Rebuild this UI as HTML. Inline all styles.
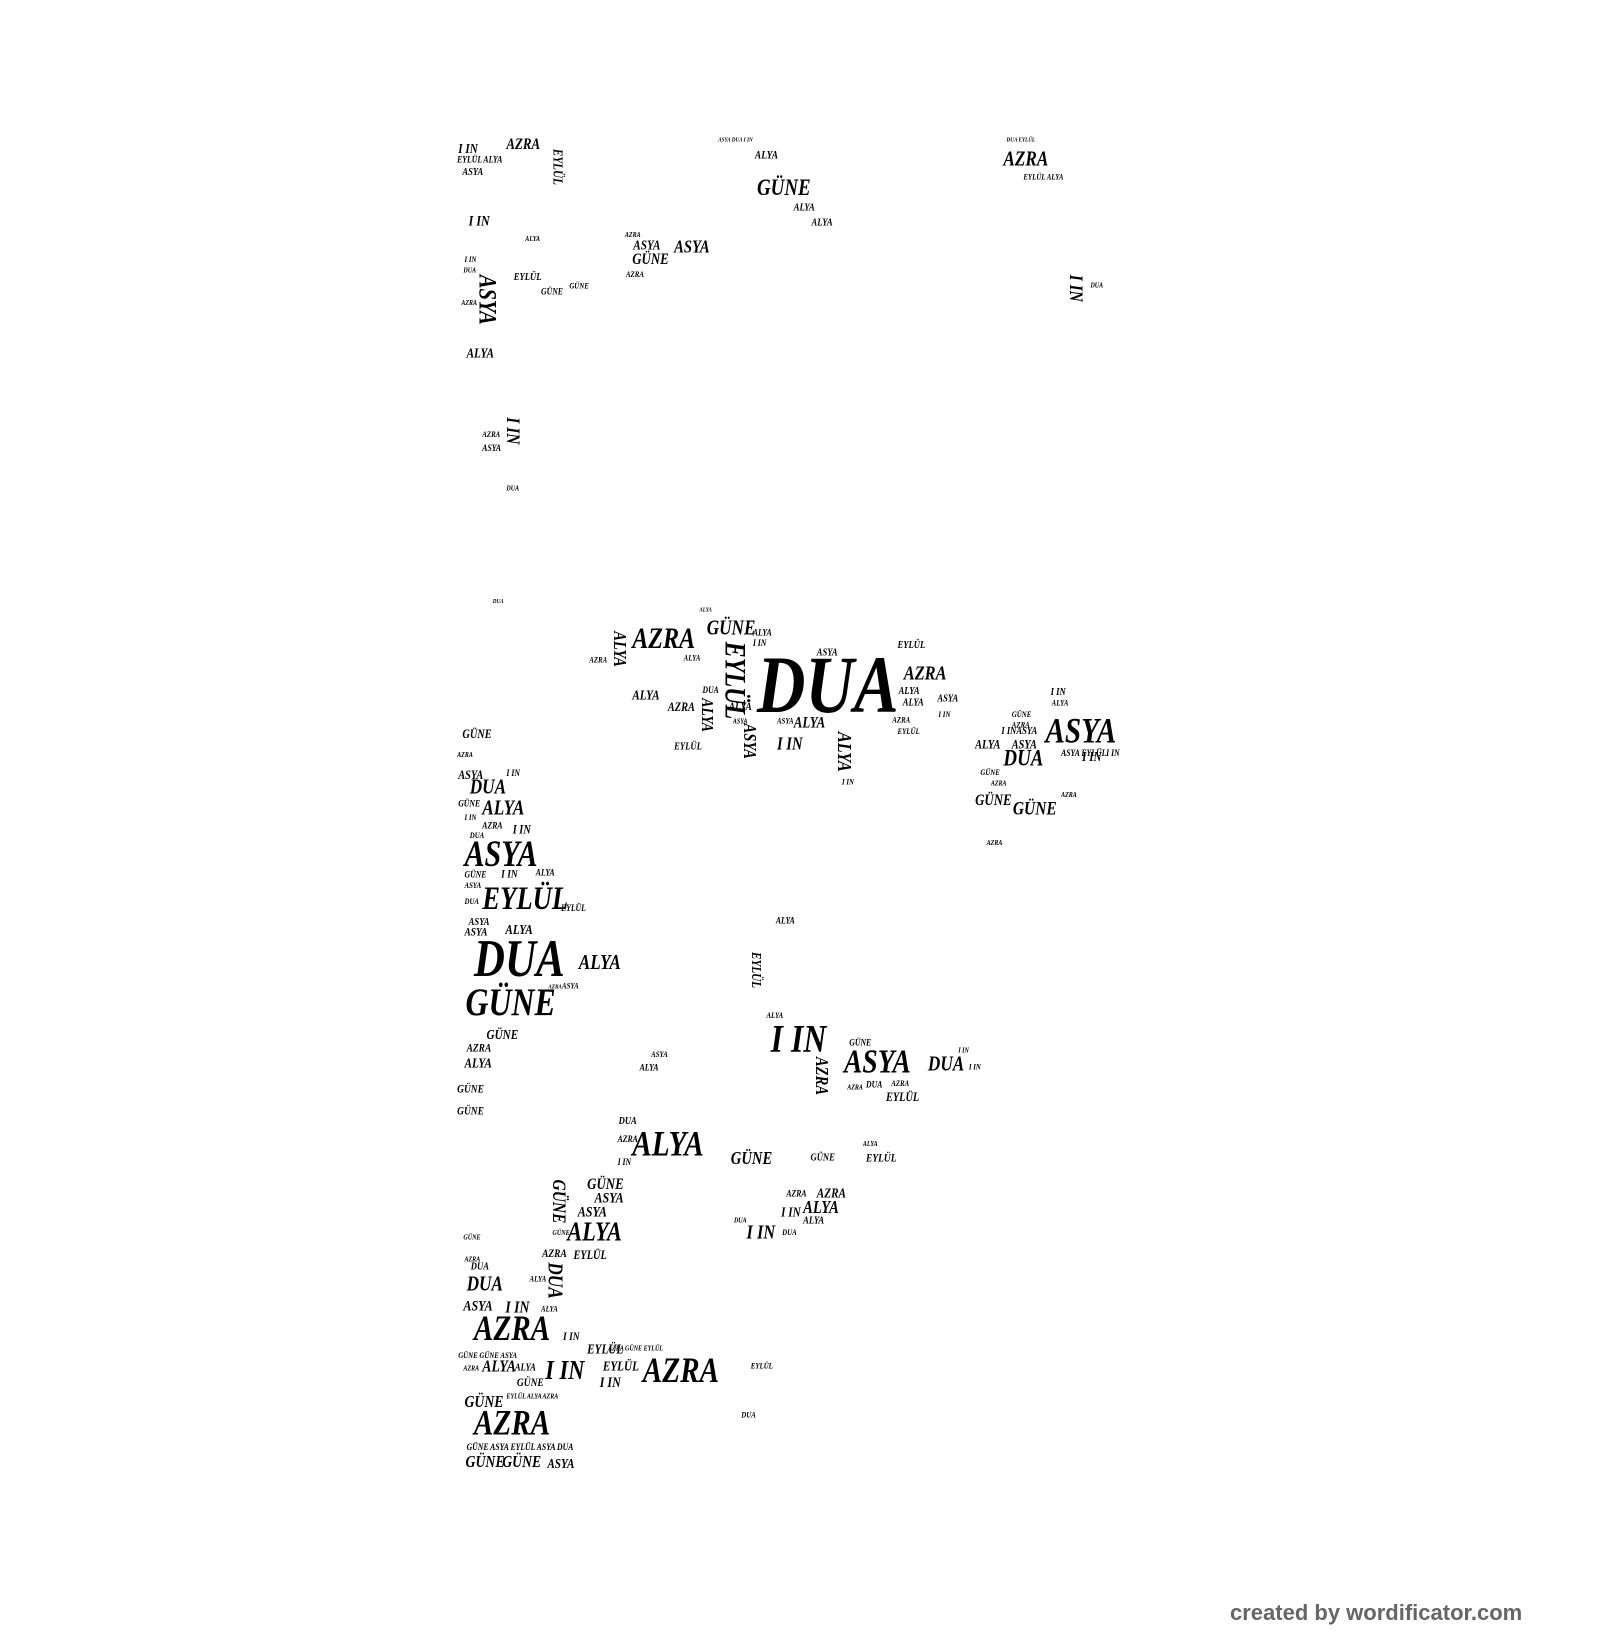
<!DOCTYPE html>
<html><head><meta charset="utf-8"><style>
html,body{margin:0;padding:0;background:#fff;width:1600px;height:1640px;overflow:hidden;position:relative}
#c{position:absolute;left:0;top:0;width:1526px;height:1564px;transform:scale(1.0485);transform-origin:0 0}
.w{position:absolute;font-family:"Liberation Serif",serif;font-weight:bold;font-style:italic;line-height:1;margin-top:-.2em;transform:scaleX(.82);transform-origin:0 0;white-space:nowrap;color:#000}
.v{writing-mode:vertical-rl;margin-top:0;margin-left:-.15em;transform:scaleY(.82)}
#cr{position:absolute;left:1230px;top:1600px;font-family:"Liberation Sans",sans-serif;font-weight:bold;font-size:22px;color:#666;white-space:nowrap}
</style></head><body><div id="c">
<!-- top cluster -->
<span class="w" style="left:437px;top:138px;font-size:13px">I IN</span>
<span class="w" style="left:483px;top:134px;font-size:15px">AZRA</span>
<span class="w v" style="left:528px;top:142px;font-size:13px">EYLÜL</span>
<span class="w" style="left:436px;top:150px;font-size:9px">EYLÜL ALYA</span>
<span class="w" style="left:441px;top:162px;font-size:10px">ASYA</span>
<span class="w" style="left:720px;top:145px;font-size:11px">ALYA</span>
<span class="w" style="left:685px;top:132px;font-size:6px">ASYA DUA I IN</span>
<span class="w" style="left:722px;top:172px;font-size:22px">GÜNE</span>
<span class="w" style="left:757px;top:196px;font-size:10px">ALYA</span>
<span class="w" style="left:774px;top:210px;font-size:10px">ALYA</span>
<span class="w" style="left:957px;top:146px;font-size:20px">AZRA</span>
<span class="w" style="left:960px;top:132px;font-size:6px">DUA EYLÜL</span>
<span class="w" style="left:976px;top:167px;font-size:8px">EYLÜL ALYA</span>
<span class="w" style="left:447px;top:208px;font-size:14px">I IN</span>
<span class="w" style="left:501px;top:226px;font-size:7px">ALYA</span>
<span class="w" style="left:596px;top:222px;font-size:7px">AZRA</span>
<span class="w" style="left:604px;top:230px;font-size:13px">ASYA</span>
<span class="w" style="left:643px;top:230px;font-size:17px">ASYA</span>
<span class="w" style="left:603px;top:244px;font-size:15px">GÜNE</span>
<span class="w" style="left:597px;top:260px;font-size:8px">AZRA</span>
<span class="w" style="left:443px;top:246px;font-size:8px">I IN</span>
<span class="w" style="left:442px;top:256px;font-size:7px">DUA</span>
<span class="w" style="left:490px;top:262px;font-size:10px">EYLÜL</span>
<span class="w" style="left:516px;top:276px;font-size:9px">GÜNE</span>
<span class="w" style="left:543px;top:271px;font-size:8px">GÜNE</span>
<span class="w v" style="left:456px;top:262px;font-size:24px">ASYA</span>
<span class="w" style="left:440px;top:287px;font-size:7px">AZRA</span>
<span class="w" style="left:445px;top:333px;font-size:13px">ALYA</span>
<span class="w v" style="left:1020px;top:262px;font-size:18px">I IN</span>
<span class="w" style="left:1040px;top:270px;font-size:7px">DUA</span>
<span class="w v" style="left:483px;top:398px;font-size:18px">I IN</span>
<span class="w" style="left:460px;top:413px;font-size:8px">AZRA</span>
<span class="w" style="left:460px;top:425px;font-size:9px">ASYA</span>
<span class="w" style="left:483px;top:464px;font-size:7px">DUA</span>
<span class="w" style="left:470px;top:572px;font-size:6px">DUA</span>
<!-- middle cluster -->
<span class="w" style="left:603px;top:602px;font-size:28px">AZRA</span>
<span class="w v" style="left:585px;top:602px;font-size:17px">ALYA</span>
<span class="w" style="left:562px;top:628px;font-size:8px">AZRA</span>
<span class="w" style="left:674px;top:593px;font-size:20px">GÜNE</span>
<span class="w" style="left:667px;top:580px;font-size:6px">ALYA</span>
<span class="w" style="left:718px;top:601px;font-size:9px">ALYA</span>
<span class="w" style="left:718px;top:611px;font-size:9px">I IN</span>
<span class="w" style="left:652px;top:626px;font-size:8px">ALYA</span>
<span class="w v" style="left:690px;top:612px;font-size:28px">EYLÜL</span>
<span class="w" style="left:722px;top:630px;font-size:78px">DUA</span>
<span class="w" style="left:779px;top:620px;font-size:10px">ASYA</span>
<span class="w" style="left:856px;top:613px;font-size:10px">EYLÜL</span>
<span class="w" style="left:862px;top:637px;font-size:19px">AZRA</span>
<span class="w" style="left:857px;top:657px;font-size:10px">ALYA</span>
<span class="w" style="left:861px;top:668px;font-size:10px">ALYA</span>
<span class="w" style="left:894px;top:664px;font-size:10px">ASYA</span>
<span class="w" style="left:895px;top:680px;font-size:8px">I IN</span>
<span class="w" style="left:603px;top:659px;font-size:13px">ALYA</span>
<span class="w" style="left:670px;top:656px;font-size:9px">DUA</span>
<span class="w" style="left:637px;top:670px;font-size:12px">AZRA</span>
<span class="w v" style="left:668px;top:666px;font-size:16px">ALYA</span>
<span class="w" style="left:695px;top:671px;font-size:11px">ALYA</span>
<span class="w" style="left:699px;top:686px;font-size:7px">ASYA</span>
<span class="w v" style="left:709px;top:690px;font-size:17px">ASYA</span>
<span class="w" style="left:643px;top:710px;font-size:10px">EYLÜL</span>
<span class="w" style="left:741px;top:686px;font-size:8px">ASYA</span>
<span class="w" style="left:757px;top:686px;font-size:15px">ALYA</span>
<span class="w" style="left:741px;top:704px;font-size:17px">I IN</span>
<span class="w v" style="left:798px;top:698px;font-size:19px">ALYA</span>
<span class="w" style="left:803px;top:744px;font-size:8px">I IN</span>
<span class="w" style="left:851px;top:685px;font-size:8px">AZRA</span>
<span class="w" style="left:856px;top:696px;font-size:8px">EYLÜL</span>
<span class="w" style="left:1002px;top:658px;font-size:10px">I IN</span>
<span class="w" style="left:1003px;top:669px;font-size:8px">ALYA</span>
<span class="w" style="left:965px;top:680px;font-size:8px">GÜNE</span>
<span class="w" style="left:965px;top:690px;font-size:8px">AZRA</span>
<span class="w" style="left:955px;top:695px;font-size:10px">I INASYA</span>
<span class="w" style="left:997px;top:688px;font-size:34px">ASYA</span>
<span class="w" style="left:930px;top:706px;font-size:12px">ALYA</span>
<span class="w" style="left:965px;top:706px;font-size:12px">ASYA</span>
<span class="w" style="left:957px;top:716px;font-size:22px">DUA</span>
<span class="w" style="left:1012px;top:716px;font-size:9px">ASYA EYLÜL</span>
<span class="w" style="left:1032px;top:718px;font-size:13px">I IN</span>
<span class="w" style="left:1055px;top:716px;font-size:9px">I IN</span>
<span class="w" style="left:935px;top:735px;font-size:8px">GÜNE</span>
<span class="w" style="left:945px;top:745px;font-size:7px">AZRA</span>
<span class="w" style="left:930px;top:760px;font-size:15px">GÜNE</span>
<span class="w" style="left:966px;top:766px;font-size:18px">GÜNE</span>
<span class="w" style="left:1012px;top:756px;font-size:7px">AZRA</span>
<span class="w" style="left:941px;top:802px;font-size:7px">AZRA</span>
<!-- left column -->
<span class="w" style="left:441px;top:696px;font-size:12px">GÜNE</span>
<span class="w" style="left:436px;top:718px;font-size:7px">AZRA</span>
<span class="w" style="left:437px;top:735px;font-size:12px">ASYA</span>
<span class="w" style="left:483px;top:735px;font-size:9px">I IN</span>
<span class="w" style="left:448px;top:745px;font-size:20px">DUA</span>
<span class="w" style="left:437px;top:764px;font-size:9px">GÜNE</span>
<span class="w" style="left:460px;top:765px;font-size:20px">ALYA</span>
<span class="w" style="left:443px;top:778px;font-size:8px">I IN</span>
<span class="w" style="left:460px;top:785px;font-size:9px">AZRA</span>
<span class="w" style="left:448px;top:795px;font-size:8px">DUA</span>
<span class="w" style="left:489px;top:787px;font-size:12px">I IN</span>
<span class="w" style="left:443px;top:804px;font-size:35px">ASYA</span>
<span class="w" style="left:443px;top:832px;font-size:9px">GÜNE</span>
<span class="w" style="left:478px;top:831px;font-size:11px">I IN</span>
<span class="w" style="left:511px;top:830px;font-size:9px">ALYA</span>
<span class="w" style="left:443px;top:843px;font-size:8px">ASYA</span>
<span class="w" style="left:443px;top:858px;font-size:8px">DUA</span>
<span class="w" style="left:460px;top:847px;font-size:31px">EYLÜL</span>
<span class="w" style="left:535px;top:864px;font-size:9px">EYLÜL</span>
<span class="w" style="left:447px;top:877px;font-size:10px">ASYA</span>
<span class="w" style="left:443px;top:886px;font-size:11px">ASYA</span>
<span class="w" style="left:482px;top:883px;font-size:13px">ALYA</span>
<span class="w" style="left:452px;top:899px;font-size:50px">DUA</span>
<span class="w" style="left:552px;top:912px;font-size:20px">ALYA</span>
<span class="w" style="left:523px;top:940px;font-size:6px">AZRA</span>
<span class="w" style="left:536px;top:939px;font-size:8px">ASYA</span>
<span class="w" style="left:444px;top:945px;font-size:37px">GÜNE</span>
<span class="w" style="left:464px;top:983px;font-size:13px">GÜNE</span>
<span class="w" style="left:445px;top:997px;font-size:11px">AZRA</span>
<span class="w" style="left:443px;top:1010px;font-size:13px">ALYA</span>
<span class="w" style="left:436px;top:1036px;font-size:11px">GÜNE</span>
<span class="w" style="left:436px;top:1057px;font-size:11px">GÜNE</span>
<span class="w" style="left:740px;top:876px;font-size:9px">ALYA</span>
<span class="w v" style="left:717px;top:908px;font-size:13px">EYLÜL</span>
<span class="w" style="left:731px;top:967px;font-size:8px">ALYA</span>
<span class="w" style="left:735px;top:980px;font-size:37px">I IN</span>
<span class="w" style="left:810px;top:992px;font-size:9px">GÜNE</span>
<span class="w v" style="left:778px;top:1008px;font-size:17px">AZRA</span>
<span class="w" style="left:805px;top:1002px;font-size:32px">ASYA</span>
<span class="w" style="left:885px;top:1009px;font-size:20px">DUA</span>
<span class="w" style="left:914px;top:1000px;font-size:7px">I IN</span>
<span class="w" style="left:924px;top:1016px;font-size:8px">I IN</span>
<span class="w" style="left:808px;top:1035px;font-size:7px">AZRA</span>
<span class="w" style="left:826px;top:1032px;font-size:9px">DUA</span>
<span class="w" style="left:850px;top:1032px;font-size:8px">AZRA</span>
<span class="w" style="left:845px;top:1042px;font-size:12px">EYLÜL</span>
<span class="w" style="left:621px;top:1004px;font-size:8px">ASYA</span>
<span class="w" style="left:610px;top:1016px;font-size:9px">ALYA</span>
<span class="w" style="left:590px;top:1067px;font-size:10px">DUA</span>
<span class="w" style="left:589px;top:1084px;font-size:9px">AZRA</span>
<span class="w" style="left:589px;top:1106px;font-size:9px">I IN</span>
<span class="w" style="left:603px;top:1082px;font-size:34px">ALYA</span>
<span class="w" style="left:697px;top:1099px;font-size:17px">GÜNE</span>
<span class="w" style="left:773px;top:1102px;font-size:10px">GÜNE</span>
<span class="w" style="left:823px;top:1089px;font-size:7px">ALYA</span>
<span class="w" style="left:826px;top:1102px;font-size:11px">EYLÜL</span>
<span class="w" style="left:750px;top:1136px;font-size:9px">AZRA</span>
<span class="w" style="left:779px;top:1134px;font-size:13px">AZRA</span>
<span class="w" style="left:766px;top:1146px;font-size:17px">ALYA</span>
<span class="w" style="left:745px;top:1152px;font-size:13px">I IN</span>
<span class="w" style="left:766px;top:1162px;font-size:10px">ALYA</span>
<span class="w" style="left:712px;top:1170px;font-size:19px">I IN</span>
<span class="w" style="left:746px;top:1174px;font-size:8px">DUA</span>
<span class="w" style="left:700px;top:1162px;font-size:7px">DUA</span>
<span class="w v" style="left:527px;top:1125px;font-size:18px">GÜNE</span>
<span class="w" style="left:560px;top:1126px;font-size:15px">GÜNE</span>
<span class="w" style="left:567px;top:1140px;font-size:14px">ASYA</span>
<span class="w" style="left:551px;top:1153px;font-size:14px">ASYA</span>
<span class="w" style="left:541px;top:1167px;font-size:26px">ALYA</span>
<span class="w" style="left:527px;top:1174px;font-size:7px">GÜNE</span>
<span class="w" style="left:517px;top:1193px;font-size:11px">AZRA</span>
<span class="w" style="left:547px;top:1193px;font-size:12px">EYLÜL</span>
<span class="w v" style="left:522px;top:1204px;font-size:20px">DUA</span>
<span class="w" style="left:505px;top:1218px;font-size:8px">ALYA</span>
<span class="w" style="left:442px;top:1178px;font-size:7px">GÜNE</span>
<span class="w" style="left:443px;top:1199px;font-size:7px">AZRA</span>
<span class="w" style="left:449px;top:1206px;font-size:10px">DUA</span>
<span class="w" style="left:445px;top:1219px;font-size:20px">DUA</span>
<span class="w" style="left:442px;top:1243px;font-size:14px">ASYA</span>
<span class="w" style="left:482px;top:1243px;font-size:16px">I IN</span>
<span class="w" style="left:516px;top:1247px;font-size:8px">ALYA</span>
<span class="w" style="left:452px;top:1258px;font-size:34px">AZRA</span>
<span class="w" style="left:537px;top:1272px;font-size:11px">I IN</span>
<span class="w" style="left:560px;top:1283px;font-size:13px">EYLÜL</span>
<span class="w" style="left:580px;top:1284px;font-size:7px">AZRA GÜNE EYLÜL</span>
<span class="w" style="left:437px;top:1291px;font-size:8px">GÜNE GÜNE ASYA</span>
<span class="w" style="left:460px;top:1299px;font-size:16px">ALYA</span>
<span class="w" style="left:442px;top:1303px;font-size:7px">AZRA</span>
<span class="w" style="left:491px;top:1302px;font-size:10px">ALYA</span>
<span class="w" style="left:520px;top:1299px;font-size:26px">I IN</span>
<span class="w" style="left:575px;top:1299px;font-size:13px">EYLÜL</span>
<span class="w" style="left:572px;top:1316px;font-size:14px">I IN</span>
<span class="w" style="left:613px;top:1298px;font-size:34px">AZRA</span>
<span class="w" style="left:716px;top:1301px;font-size:8px">EYLÜL</span>
<span class="w" style="left:493px;top:1316px;font-size:11px">GÜNE</span>
<span class="w" style="left:443px;top:1333px;font-size:16px">GÜNE</span>
<span class="w" style="left:483px;top:1330px;font-size:7px">EYLÜL ALYA AZRA</span>
<span class="w" style="left:452px;top:1348px;font-size:34px">AZRA</span>
<span class="w" style="left:707px;top:1348px;font-size:8px">DUA</span>
<span class="w" style="left:445px;top:1378px;font-size:9px">GÜNE ASYA EYLÜL ASYA DUA</span>
<span class="w" style="left:444px;top:1390px;font-size:16px">GÜNE</span>
<span class="w" style="left:479px;top:1390px;font-size:16px">GÜNE</span>
<span class="w" style="left:522px;top:1392px;font-size:13px">ASYA</span>
</div>
<div id="cr">created by wordificator.com</div>
</body></html>
